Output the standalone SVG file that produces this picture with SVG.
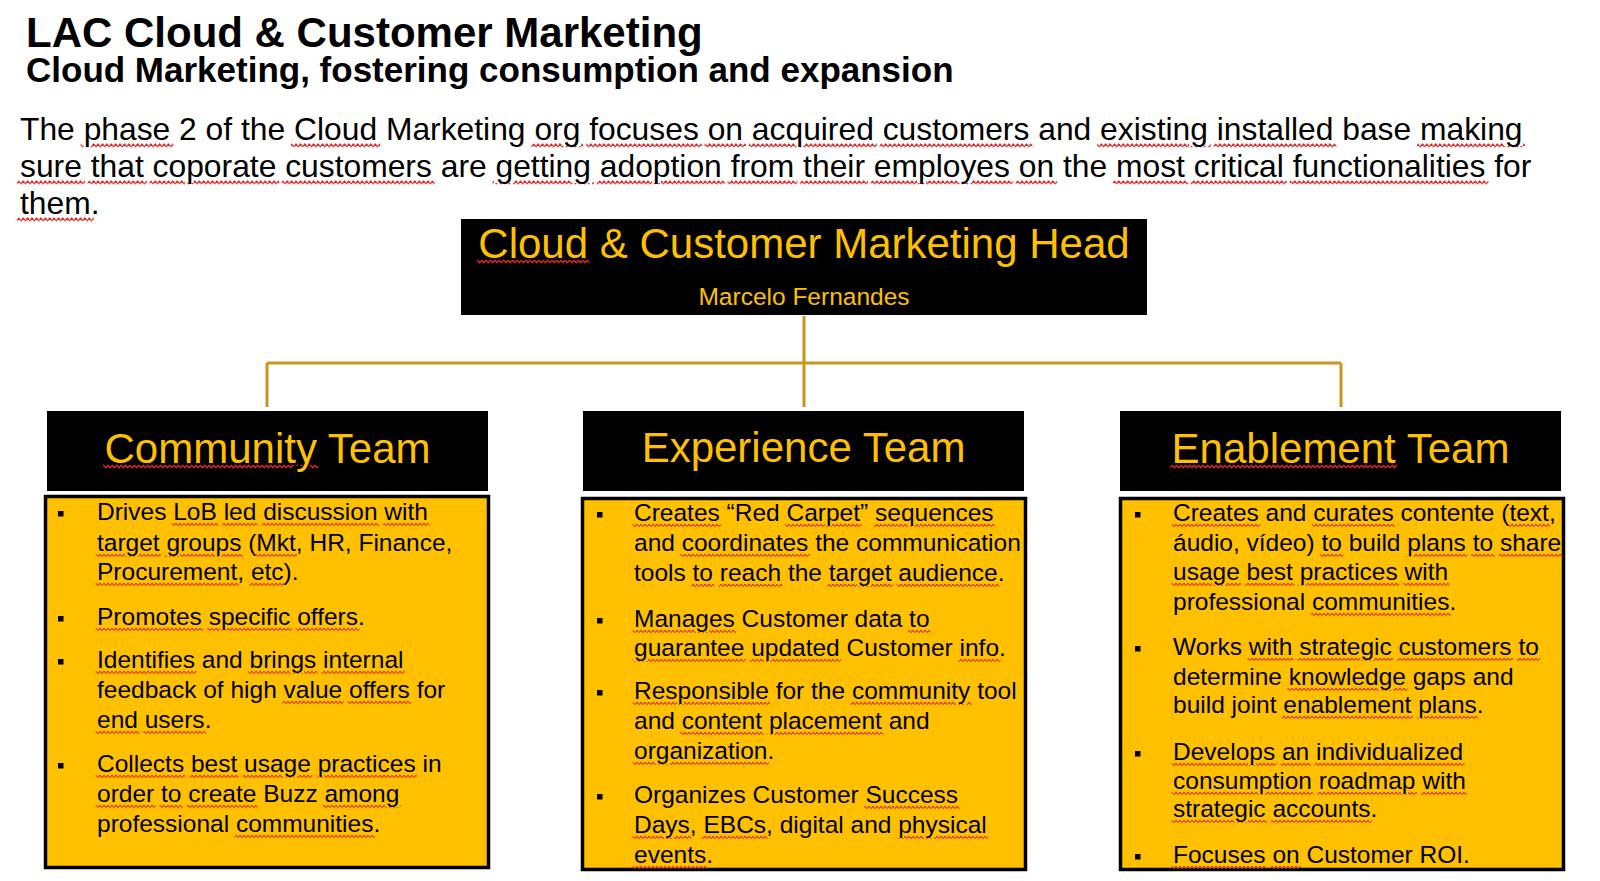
<svg xmlns="http://www.w3.org/2000/svg" width="1600" height="881" viewBox="0 0 1600 881">
<style>
text{font-family:"Liberation Sans",Arial,sans-serif}
.t1{font-size:42px;font-weight:bold;fill:#000}
.t2{font-size:35px;font-weight:bold;fill:#000}
.p{font-size:31.8px;fill:#000}
.hd{fill:#000}
.ht{font-size:42px;fill:#FFC000;text-anchor:middle}
.hn{font-size:24.5px;fill:#FFC000;text-anchor:middle}
.box{fill:#FFC000;stroke:#000;stroke-width:3.5}
.b{font-size:24.5px;fill:#000}
.con{fill:none;stroke:#C8961E;stroke-width:3}
.s{font-size:40px;fill:url(#z24);stroke:url(#z24);stroke-width:3;text-decoration:underline}
.sp{fill:url(#z32);stroke:url(#z32);stroke-width:6;text-decoration:underline}
.sh{font-size:30px;fill:url(#z42);stroke:url(#z42);stroke-width:3;text-decoration:underline}
.k{font-size:24.5px;fill:#000;stroke:none}
.kp{fill:#000;stroke:none}
.ky{font-size:42px;fill:#FFC000;stroke:none}
</style>
<defs>
<rect id="bul" width="5.5" height="5.5"/>
<pattern id="z24" patternUnits="userSpaceOnUse" x="0" y="-50" width="4" height="100">
<path d="M-1 53.2 L1 55.8 L3 53.2 L5 55.8" fill="none" stroke="#e02828" stroke-width="1"/>
</pattern>
<pattern id="z32" patternUnits="userSpaceOnUse" x="0" y="-50" width="4.4" height="100">
<path d="M-1.1 54.2 L1.1 56.8 L3.3 54.2 L5.5 56.8" fill="none" stroke="#e02828" stroke-width="1.1"/>
</pattern>
<pattern id="z42" patternUnits="userSpaceOnUse" x="0" y="-50" width="4.4" height="100">
<path d="M-1.1 52 L1.1 54.8 L3.3 52 L5.5 54.8" fill="none" stroke="#e02828" stroke-width="1.1"/>
</pattern>
</defs>

<g id="title">
<text class="t1" x="26" y="47">LAC Cloud &amp; Customer Marketing</text>
<text class="t2" x="26" y="82">Cloud Marketing, fostering consumption and expansion</text>
</g>

<g id="intro">
<text class="p" transform="translate(20,140)">The <tspan class="sp"><tspan class="kp">phase</tspan></tspan> 2 of the <tspan class="sp"><tspan class="kp">Cloud</tspan></tspan> Marketing <tspan class="sp"><tspan class="kp">org</tspan></tspan> <tspan class="sp"><tspan class="kp">focuses</tspan></tspan> <tspan class="sp"><tspan class="kp">on</tspan></tspan> <tspan class="sp"><tspan class="kp">acquired</tspan></tspan> <tspan class="sp"><tspan class="kp">customers</tspan></tspan> and <tspan class="sp"><tspan class="kp">existing</tspan></tspan> <tspan class="sp"><tspan class="kp">installed</tspan></tspan> base <tspan class="sp"><tspan class="kp">making</tspan></tspan></text>
<text class="p" transform="translate(20,177)"><tspan class="sp"><tspan class="kp">sure</tspan></tspan> <tspan class="sp"><tspan class="kp">that</tspan></tspan> <tspan class="sp"><tspan class="kp">coporate</tspan></tspan> <tspan class="sp"><tspan class="kp">customers</tspan></tspan> are <tspan class="sp"><tspan class="kp">getting</tspan></tspan> <tspan class="sp"><tspan class="kp">adoption</tspan></tspan> <tspan class="sp"><tspan class="kp">from</tspan></tspan> <tspan class="sp"><tspan class="kp">their</tspan></tspan> <tspan class="sp"><tspan class="kp">employes</tspan></tspan> <tspan class="sp"><tspan class="kp">on</tspan></tspan> the <tspan class="sp"><tspan class="kp">most</tspan></tspan> <tspan class="sp"><tspan class="kp">critical</tspan></tspan> <tspan class="sp"><tspan class="kp">functionalities</tspan></tspan> for</text>
<text class="p" transform="translate(20,214)"><tspan class="sp"><tspan class="kp">them</tspan></tspan>.</text>
</g>

<g id="connectors">
<path class="con" d="M804 316 V407 M267 363 H1341 M267 363 V407 M1341 363 V407"/>
</g>

<g id="head">
<rect class="hd" x="461" y="219" width="686" height="96"/>
<text class="ht" transform="translate(804,258)"><tspan class="sh"><tspan class="ky">Cloud</tspan></tspan> &amp; Customer Marketing Head</text>
<text class="hn" x="804" y="305">Marcelo Fernandes</text>
</g>

<g id="community">
<rect class="hd" x="47" y="411" width="441" height="80"/>
<text class="ht" transform="translate(267.5,463)"><tspan class="sh"><tspan class="ky">Community</tspan></tspan> Team</text>
<rect class="box" x="45.5" y="496.5" width="443" height="371"/>
<use href="#bul" x="58" y="511"/>
<use href="#bul" x="58" y="616"/>
<use href="#bul" x="58" y="659"/>
<use href="#bul" x="58" y="763"/>
<text class="b" transform="translate(97,520)">Drives <tspan class="s"><tspan class="k">LoB</tspan></tspan> <tspan class="s"><tspan class="k">led</tspan></tspan> <tspan class="s"><tspan class="k">discussion</tspan></tspan> <tspan class="s"><tspan class="k">with</tspan></tspan></text>
<text class="b" transform="translate(97,551)"><tspan class="s"><tspan class="k">target</tspan></tspan> <tspan class="s"><tspan class="k">groups</tspan></tspan> (<tspan class="s"><tspan class="k">Mkt</tspan></tspan>, HR, Finance,</text>
<text class="b" transform="translate(97,580)"><tspan class="s"><tspan class="k">Procurement</tspan></tspan>, <tspan class="s"><tspan class="k">etc</tspan></tspan>).</text>
<text class="b" transform="translate(97,625)"><tspan class="s"><tspan class="k">Promotes</tspan></tspan> <tspan class="s"><tspan class="k">specific</tspan></tspan> <tspan class="s"><tspan class="k">offers</tspan></tspan>.</text>
<text class="b" transform="translate(97,668)"><tspan class="s"><tspan class="k">Identifies</tspan></tspan> and <tspan class="s"><tspan class="k">brings</tspan></tspan> <tspan class="s"><tspan class="k">internal</tspan></tspan></text>
<text class="b" transform="translate(97,698)">feedback of high <tspan class="s"><tspan class="k">value</tspan></tspan> <tspan class="s"><tspan class="k">offers</tspan></tspan> for</text>
<text class="b" transform="translate(97,728)"><tspan class="s"><tspan class="k">end</tspan></tspan> <tspan class="s"><tspan class="k">users</tspan></tspan>.</text>
<text class="b" transform="translate(97,772)"><tspan class="s"><tspan class="k">Collects</tspan></tspan> <tspan class="s"><tspan class="k">best</tspan></tspan> <tspan class="s"><tspan class="k">usage</tspan></tspan> <tspan class="s"><tspan class="k">practices</tspan></tspan> in</text>
<text class="b" transform="translate(97,802)"><tspan class="s"><tspan class="k">order</tspan></tspan> <tspan class="s"><tspan class="k">to</tspan></tspan> <tspan class="s"><tspan class="k">create</tspan></tspan> Buzz <tspan class="s"><tspan class="k">among</tspan></tspan></text>
<text class="b" transform="translate(97,832)">professional <tspan class="s"><tspan class="k">communities</tspan></tspan>.</text>
</g>

<g id="experience">
<rect class="hd" x="583" y="411" width="441" height="80"/>
<text class="ht" x="803.5" y="462">Experience Team</text>
<rect class="box" x="582.5" y="498.5" width="443" height="371"/>
<use href="#bul" x="597" y="512"/>
<use href="#bul" x="597" y="618"/>
<use href="#bul" x="597" y="690"/>
<use href="#bul" x="597" y="794"/>
<text class="b" transform="translate(634,521)"><tspan class="s"><tspan class="k">Creates</tspan></tspan> “Red <tspan class="s"><tspan class="k">Carpet</tspan></tspan>” <tspan class="s"><tspan class="k">sequences</tspan></tspan></text>
<text class="b" transform="translate(634,551)">and <tspan class="s"><tspan class="k">coordinates</tspan></tspan> the communication</text>
<text class="b" transform="translate(634,581)">tools <tspan class="s"><tspan class="k">to</tspan></tspan> <tspan class="s"><tspan class="k">reach</tspan></tspan> the <tspan class="s"><tspan class="k">target</tspan></tspan> <tspan class="s"><tspan class="k">audience</tspan></tspan>.</text>
<text class="b" transform="translate(634,627)"><tspan class="s"><tspan class="k">Manages</tspan></tspan> Customer data <tspan class="s"><tspan class="k">to</tspan></tspan></text>
<text class="b" transform="translate(634,656)"><tspan class="s"><tspan class="k">guarantee</tspan></tspan> <tspan class="s"><tspan class="k">updated</tspan></tspan> Customer <tspan class="s"><tspan class="k">info</tspan></tspan>.</text>
<text class="b" transform="translate(634,699)"><tspan class="s"><tspan class="k">Responsible</tspan></tspan> for the <tspan class="s"><tspan class="k">community</tspan></tspan> tool</text>
<text class="b" transform="translate(634,729)">and <tspan class="s"><tspan class="k">content</tspan></tspan> <tspan class="s"><tspan class="k">placement</tspan></tspan> and</text>
<text class="b" transform="translate(634,759)"><tspan class="s"><tspan class="k">organization</tspan></tspan>.</text>
<text class="b" transform="translate(634,803)">Organizes Customer <tspan class="s"><tspan class="k">Success</tspan></tspan></text>
<text class="b" transform="translate(634,833)"><tspan class="s"><tspan class="k">Days</tspan></tspan>, <tspan class="s"><tspan class="k">EBCs</tspan></tspan>, digital and <tspan class="s"><tspan class="k">physical</tspan></tspan></text>
<text class="b" transform="translate(634,863)"><tspan class="s"><tspan class="k">events</tspan></tspan>.</text>
</g>

<g id="enablement">
<rect class="hd" x="1120" y="411" width="441" height="80"/>
<text class="ht" transform="translate(1340.5,463)"><tspan class="sh"><tspan class="ky">Enablement</tspan></tspan> Team</text>
<rect class="box" x="1120.5" y="498.5" width="443" height="371"/>
<use href="#bul" x="1135" y="512"/>
<use href="#bul" x="1135" y="646"/>
<use href="#bul" x="1135" y="751"/>
<use href="#bul" x="1135" y="854"/>
<text class="b" transform="translate(1173,521)"><tspan class="s"><tspan class="k">Creates</tspan></tspan> and <tspan class="s"><tspan class="k">curates</tspan></tspan> contente (<tspan class="s"><tspan class="k">text</tspan></tspan>,</text>
<text class="b" transform="translate(1173,551)">áudio, vídeo) <tspan class="s"><tspan class="k">to</tspan></tspan> build <tspan class="s"><tspan class="k">plans</tspan></tspan> <tspan class="s"><tspan class="k">to</tspan></tspan> <tspan class="s"><tspan class="k">share</tspan></tspan></text>
<text class="b" transform="translate(1173,580)"><tspan class="s"><tspan class="k">usage</tspan></tspan> <tspan class="s"><tspan class="k">best</tspan></tspan> <tspan class="s"><tspan class="k">practices</tspan></tspan> <tspan class="s"><tspan class="k">with</tspan></tspan></text>
<text class="b" transform="translate(1173,610)">professional <tspan class="s"><tspan class="k">communities</tspan></tspan>.</text>
<text class="b" transform="translate(1173,655)">Works <tspan class="s"><tspan class="k">with</tspan></tspan> <tspan class="s"><tspan class="k">strategic</tspan></tspan> <tspan class="s"><tspan class="k">customers</tspan></tspan> <tspan class="s"><tspan class="k">to</tspan></tspan></text>
<text class="b" transform="translate(1173,685)">determine <tspan class="s"><tspan class="k">knowledge</tspan></tspan> gaps and</text>
<text class="b" transform="translate(1173,713)">build joint <tspan class="s"><tspan class="k">enablement</tspan></tspan> <tspan class="s"><tspan class="k">plans</tspan></tspan>.</text>
<text class="b" transform="translate(1173,760)"><tspan class="s"><tspan class="k">Develops</tspan></tspan> <tspan class="s"><tspan class="k">an</tspan></tspan> <tspan class="s"><tspan class="k">individualized</tspan></tspan></text>
<text class="b" transform="translate(1173,789)"><tspan class="s"><tspan class="k">consumption</tspan></tspan> <tspan class="s"><tspan class="k">roadmap</tspan></tspan> <tspan class="s"><tspan class="k">with</tspan></tspan></text>
<text class="b" transform="translate(1173,817)"><tspan class="s"><tspan class="k">strategic</tspan></tspan> <tspan class="s"><tspan class="k">accounts</tspan></tspan>.</text>
<text class="b" transform="translate(1173,863)"><tspan class="s"><tspan class="k">Focuses</tspan></tspan> <tspan class="s"><tspan class="k">on</tspan></tspan> Customer ROI.</text>
</g>
</svg>
